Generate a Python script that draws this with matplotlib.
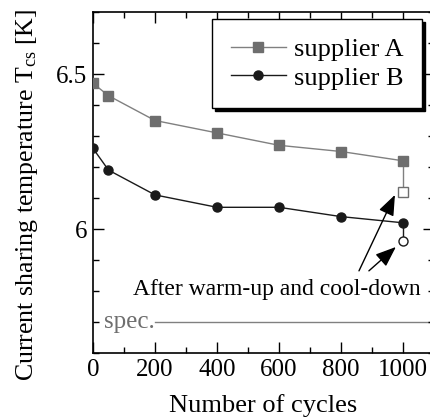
import matplotlib
matplotlib.use("Agg")
import matplotlib.pyplot as plt
from matplotlib.ticker import MultipleLocator

plt.rcParams['font.family'] = ['Liberation Serif', 'DejaVu Serif']
plt.rcParams['mathtext.fontset'] = 'custom'
plt.rcParams['mathtext.rm'] = 'Liberation Serif'
plt.rcParams['mathtext.it'] = 'Liberation Serif:italic'

cycles = [0, 50, 200, 400, 600, 800, 1000]
supplier_a = [6.47, 6.43, 6.35, 6.31, 6.27, 6.25, 6.22]
supplier_b = [6.26, 6.19, 6.11, 6.07, 6.07, 6.04, 6.02]
after_cycle = 1000
after_a = 6.12
after_b = 5.96
spec_value = 5.7

grey_line = '#808080'
grey_mark = '#6e6e6e'
black = '#1a1a1a'

fig = plt.figure(figsize=(4.31, 4.19), dpi=100)
ax = fig.add_axes([93/431, 1 - 353/419, 341/431, 341/419])

ax.plot(cycles, supplier_a, color=grey_line, lw=1.0, marker='s', ms=6.5,
        mfc=grey_mark, mec=grey_mark, label='supplier A', zorder=3)
ax.plot(cycles, supplier_b, color=black, lw=1.0, marker='o', ms=6.5,
        mfc=black, mec=black, label='supplier B', zorder=3)
ax.plot([after_cycle, after_cycle], [supplier_a[-1], after_a], color=grey_line, lw=1.0, zorder=2)
ax.plot([after_cycle, after_cycle], [supplier_b[-1], after_b], color=black, lw=1.0, zorder=2)
ax.plot([after_cycle], [after_a], marker='s', ms=6.5, mfc='white', mec=grey_mark, mew=1.0, ls='none', zorder=4)
ax.plot([after_cycle], [after_b], marker='o', ms=6.5, mfc='white', mec=black, mew=1.0, ls='none', zorder=4)

ax.plot([200, 1100], [spec_value, spec_value], color=grey_line, lw=1.0, zorder=1)
ax.text(35, spec_value, 'spec.', color=grey_mark, fontsize=18, ha='left', va='center')

ax.text(592, 5.806, 'After warm-up and cool-down', fontsize=17, ha='center', va='center')
arrow_kw = dict(arrowstyle='-|>,head_length=0.9,head_width=0.35', color='black', lw=1.0,
                shrinkA=0, shrinkB=0, mutation_scale=14)
ax.annotate('', xy=(974, 6.11), xytext=(858, 5.865), arrowprops=arrow_kw)
ax.annotate('', xy=(977, 5.942), xytext=(890, 5.865), arrowprops=arrow_kw)

ax.set_xlim(0, 1100)
ax.set_ylim(5.6, 6.7)
ax.xaxis.set_major_locator(MultipleLocator(200))
ax.xaxis.set_minor_locator(MultipleLocator(100))
ax.yaxis.set_major_locator(MultipleLocator(0.5))
ax.yaxis.set_minor_locator(MultipleLocator(0.1))
ax.set_xticks([0, 200, 400, 600, 800, 1000])
ax.set_xticklabels(['0', '200', '400', '600', '800', '1000'])
ax.set_yticks([6.0, 6.5])
ax.set_yticklabels(['6', '6.5'])
ax.tick_params(which='both', direction='in', top=True, right=True, width=1.0, labelsize=18, pad=4)
ax.tick_params(which='major', length=8)
ax.tick_params(which='minor', length=4.5)
for s in ax.spines.values():
    s.set_linewidth(1.2)

ax.set_xlabel('Number of cycles', fontsize=19, labelpad=10)
ax.set_ylabel(r'Current sharing temperature T$_{\rm cs}$ [K]', fontsize=18.6)
ax.yaxis.set_label_coords(-0.155, 0.465)

leg = ax.legend(loc='upper right', bbox_to_anchor=(422/431, 1 - 19/419), bbox_transform=fig.transFigure,
                fontsize=19, frameon=True, fancybox=False, edgecolor='black', framealpha=1,
                shadow={'color': 'black', 'alpha': 1}, borderpad=0.7, handlelength=2.1,
                handletextpad=0.3, labelspacing=0.2, borderaxespad=0)
leg.get_frame().set_linewidth(1.0)

fig.savefig('out.png', dpi=100)
